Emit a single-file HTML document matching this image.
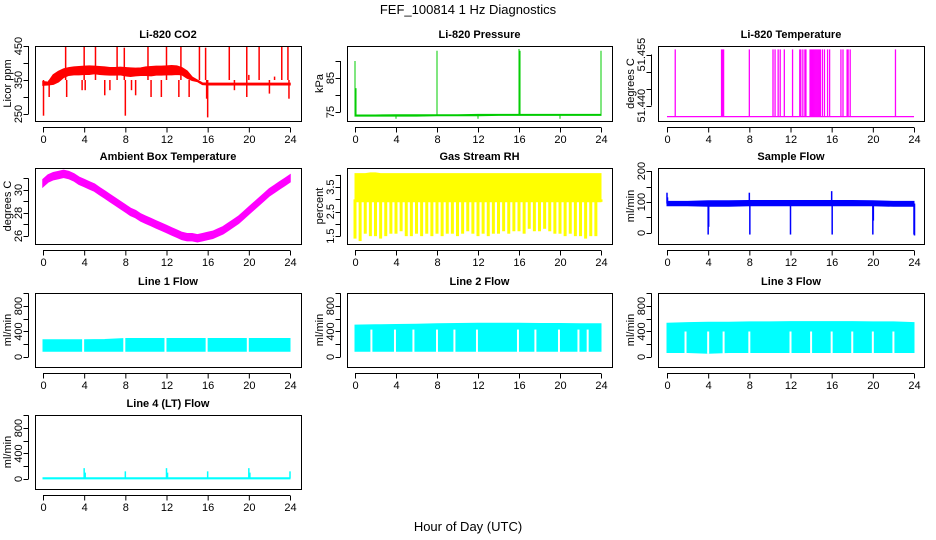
<!DOCTYPE html>
<html><head><meta charset="utf-8"><style>
html,body{margin:0;padding:0;background:#fff;}
svg{display:block;font-family:"Liberation Sans",sans-serif;}
</style></head><body>
<svg id="chart" width="936" height="540" viewBox="0 0 936 540">
<text x="468" y="14" text-anchor="middle" font-size="13">FEF_100814  1 Hz Diagnostics</text>
<text x="468" y="531" text-anchor="middle" font-size="13">Hour of Day (UTC)</text>
</svg>
<script>
// ---- data ----
const xTicks = [0,4,8,12,16,20,24];
const halfHours = [0,0.5,1,1.5,2,2.5,3,3.5,4,4.5,5,5.5,6,6.5,7,7.5,8,8.5,9,9.5,10,10.5,11,11.5,12,12.5,13,13.5,14,14.5,15,15.5,16,16.5,17,17.5,18,18.5,19,19.5,20,20.5,21,21.5,22,22.5,23,23.5,24];
const twoHours = [0,2,4,6,8,10,12,14,16,18,20,22,24];

const co2Lo = [335,336,338,345,358,364,366,366,367,367,369,367,366,365,365,366,363,361,363,364,364,363,365,365,366,366,367,366,356,349,346,337,336,336,336,336,336,336,336,336,336,336,336,336,336,336,336,336,336];
const co2Hi = [345,343,365,375,382,386,388,389,390,391,390,389,388,386,386,387,386,385,384,385,388,389,390,390,391,392,391,386,376,358,349,341,340,340,340,340,340,340,340,340,340,340,340,340,340,340,340,340,340];
const co2SpikeHours = [2.2,4,5.1,7.2,7.9,10.2,12,13.4,15.2,15.8,18.1,19.8,21,23.2,23.8,20,22.5,0.05,0.6,2.3,3.8,4.1,6,6.5,8,8.6,9,10.5,11.5,13.2,14.2,16,15.9,18.6,19.8,22,23.9];
const co2SpikeVals = [450,450,450,450,445,450,450,450,450,445,450,450,450,450,450,365,360,245,300,300,320,320,305,320,245,320,305,300,300,300,300,240,295,320,300,310,295];

const presLo = [73.8,73.8,73.8,73.8,73.9,73.9,73.9,74.0,74.0,74.0,74.0,74.0,74.0];
const presHi = [74.1,74.1,74.2,74.2,74.2,74.2,74.3,74.3,74.3,74.3,74.3,74.3,74.3];
const presSpikeHours = [0,0.1,8,16,16.1,24,4,12,20];
const presSpikeVals = [90,82,93,93.5,93,93,73,73,73];

const tempBase = [51.4368,51.4368,51.4368,51.4368,51.4368,51.4368,51.4368,51.4368,51.4368,51.4368,51.4368,51.4368,51.4368];
const tempSpikeHours = [0.8,5.3,5.4,5.5,8,10.3,10.5,10.8,11,11.4,12.2,12.9,13,13.2,13.4,13.5,13.9,14,14.1,14.2,14.3,14.4,14.5,14.6,14.7,14.8,14.9,15.1,15.3,15.6,15.8,16.9,17.1,17.5,17.6,17.8,22.2];
const tempSpikeVals = tempSpikeHours.map(()=>51.4565);

const ambCenter = [30.6,31.0,31.2,31.3,31.4,31.3,31.1,30.8,30.6,30.4,30.2,29.9,29.6,29.3,29.0,28.7,28.4,28.1,27.9,27.6,27.4,27.2,27.0,26.8,26.6,26.4,26.2,26.0,25.9,25.9,25.8,25.9,26.0,26.1,26.3,26.5,26.8,27.1,27.4,27.8,28.2,28.6,29.0,29.4,29.8,30.1,30.4,30.7,31.0];
const ambSpread = 0.6;

const rhHi = [4.05,4.05,4.05,4.08,4.08,4.05,4.05,4.05,4.05,4.05,4.05,4.05,4.05,4.05,4.05,4.05,4.05,4.05,4.05,4.05,4.05,4.05,4.05,4.05,4.05,4.05,4.05,4.05,4.05,4.05,4.05,4.05,4.05,4.05,4.05,4.05,4.05,4.05,4.05,4.05,4.05,4.05,4.05,4.05,4.05,4.05,4.05,4.05,4.05];
const rhLo = [1.4,1.3,1.6,1.5,1.5,1.4,1.5,1.6,1.6,1.7,1.5,1.5,1.6,1.5,1.6,1.5,1.6,1.5,1.6,1.6,1.5,1.6,1.7,1.6,1.5,1.6,1.5,1.6,1.6,1.7,1.6,1.7,1.7,1.6,1.8,1.7,1.7,1.8,1.7,1.6,1.6,1.5,1.6,1.5,1.5,1.4,1.5,1.5,2.9];

const flowLo = [88,88,86,86,88,88,88,88,88,88,88,86,86];
const flowHi = [102,102,104,104,105,105,105,105,105,105,104,102,102];
const flowSpikeHours = [0,0.05,4,4.05,8,8.05,12,16,16.05,20,20.05,24,24.05];
const flowSpikeVals = [130,115,-5,20,130,-5,-5,135,-5,-5,40,-5,-8];

const line1Lo = [90,90,90,90,90,90,90,90,90,90,90,90,90];
const line1Hi = [270,270,270,275,290,290,290,290,290,290,290,290,290];
const line1Gaps = [3.9,7.9,11.9,15.9,19.9];
const line2Lo = [90,90,90,90,90,90,90,90,90,90,90,90,90];
const line2Hi = [500,505,510,515,520,525,530,530,530,525,525,520,520];
const line2Gaps = [1.6,3.9,5.7,8.0,9.7,11.9,15.9,17.6,19.9,21.8,22.7];
const line3Lo = [70,70,60,70,70,70,70,70,70,70,70,70,70];
const line3Hi = [530,540,545,545,550,550,555,555,555,555,550,550,540];
const line3Gaps = [1.8,4.0,5.5,8.0,12.0,14.0,16.0,18.0,20.0,22.0];
const line4Lo = [2,2,2,2,2,2,2,2,2,2,2,2,2];
const line4Hi = [18,18,18,18,18,18,18,18,18,18,18,18,18];
const line4SpikeHours = [4,4.1,8,12,12.1,16,20,20.1,24];
const line4SpikeVals = [170,100,120,170,100,120,170,100,120];

// ---- layout ----
const svg = document.getElementById('chart');
const NS = 'http://www.w3.org/2000/svg';
const cols = [{l:35,r:301,x0:43,x1:290},{l:347,r:612,x0:355,x1:601},{l:658,r:924,x0:667,x1:914}];
const rows = [{t:46,b:121},{t:168,b:244},{t:293,b:367},{t:415,b:489}];

function mk(tag, attrs, parent){
  const e = document.createElementNS(NS, tag);
  for (const k in attrs) e.setAttribute(k, attrs[k]);
  (parent||svg).appendChild(e);
  return e;
}

function panel(name, title, ylab, col, row, ymin, ymax, yt, ylabels, color){
  const c = cols[col], r = rows[row];
  const g = mk('g', {});
  
  
  const xs = h => c.x0 + (c.x1 - c.x0) * h / 24;
  const ys = v => r.b - (v - ymin) / (ymax - ymin) * (r.b - r.t);
  const plot = mk('g', {}, g);
  
  
  const fr = mk('rect', {x:c.l+0.5, y:r.t+0.5, width:c.r-c.l, height:r.b-r.t, fill:'none', stroke:'#000'}, g);
  
  
  const tt = mk('text', {x:(c.l+c.r)/2, y:r.t-8, 'text-anchor':'middle', 'font-size':11, 'font-weight':'bold'}, g);
  tt.textContent = title;
  
  
  const xa = mk('g', {}, g);
  
  
  const ay = r.b + 6.5;
  mk('line', {x1:xs(0), x2:xs(24), y1:ay, y2:ay, stroke:'#000'}, xa);
  xTicks.forEach(h => {
    mk('line', {x1:xs(h)+0.5, x2:xs(h)+0.5, y1:ay, y2:ay+5, stroke:'#000'}, xa);
    const t = mk('text', {x:xs(h)+0.5, y:r.b+22, 'text-anchor':'middle', 'font-size':11}, xa);
    t.textContent = h;
  });
  const ya = mk('g', {}, g);
  
  
  const ax = c.l - 6.5;
  mk('line', {x1:ax, x2:ax, y1:ys(yt[0]), y2:ys(yt[yt.length-1]), stroke:'#000'}, ya);
  yt.forEach(v => mk('line', {x1:ax-5, x2:ax, y1:Math.round(ys(v))+0.5, y2:Math.round(ys(v))+0.5, stroke:'#000'}, ya));
  ylabels.forEach(v => {
    const y = ys(v), x = c.l - 13;
    const t = mk('text', {x:x, y:y, 'text-anchor':'middle', 'font-size':11, transform:`rotate(-90 ${x} ${y})`}, ya);
    t.textContent = (typeof v === 'number' && v > 51 && v < 52) ? v.toFixed(3) : v;
  });
  const nx = c.l - 24;
  const yl = mk('text', {x:nx, y:(r.t+r.b)/2, 'text-anchor':'middle', 'font-size':11, transform:`rotate(-90 ${nx} ${(r.t+r.b)/2})`}, g);
  yl.textContent = ylab;
  
  
  return {xs, ys, plot, color};
}

function band(p, hours, lo, hi, sw){
  let d = '';
  hours.forEach((h,i) => d += (i ? 'L' : 'M') + p.xs(h).toFixed(1) + ' ' + p.ys(hi[i]).toFixed(1));
  for (let i = hours.length-1; i >= 0; i--) d += 'L' + p.xs(hours[i]).toFixed(1) + ' ' + p.ys(lo[i]).toFixed(1);
  const e = mk('path', {d:d+'Z', fill:p.color, stroke:p.color, 'stroke-width':sw||1}, p.plot);
  
  
}
function spikes(p, hours, vals, base, w){
  hours.forEach((h,i) => {
    const e = mk('line', {x1:p.xs(h), x2:p.xs(h), y1:p.ys(base), y2:p.ys(vals[i]), stroke:p.color, 'stroke-width':w||1.5}, p.plot);
    
    
  });
}
function gaps(p, hours, lo, top){
  hours.forEach(h => {
    const e = mk('line', {x1:p.xs(h), x2:p.xs(h), y1:p.ys(lo-20), y2:p.ys(top), stroke:'#fff', 'stroke-width':2}, p.plot);
    
    
  });
}

let p = panel('co2','Li-820 CO2','Licor ppm',0,0,229.4,450,[250,300,350,400,450],[250,350,450],'#ff0000');
band(p, halfHours, co2Lo, co2Hi, 1.5);
spikes(p, co2SpikeHours, co2SpikeVals, 350);
p = panel('pressure','Li-820 Pressure','kPa',1,0,72.35,94.4,[75,80,85,90],[75,85],'#00cc00');
band(p, twoHours, presLo, presHi, 1);
spikes(p, presSpikeHours, presSpikeVals, 74.0, 1);
p = panel('li820-temp','Li-820 Temperature','degrees C',2,0,51.4355,51.4575,[51.440,51.445,51.450,51.455],[51.440,51.455],'#ff00ff');
band(p, twoHours, tempBase, tempBase, 1.2);
spikes(p, tempSpikeHours, tempSpikeVals, 51.4368, 1.3);
p = panel('ambient','Ambient Box Temperature','degrees C',0,1,25.3,31.91,[26,27,28,29,30,31],[26,28,30],'#ff00ff');
band(p, halfHours, ambCenter.map(v=>v-ambSpread/2), ambCenter.map(v=>v+ambSpread/2), 1.5);
p = panel('rh','Gas Stream RH','percent',1,1,1.18,4.28,[1.5,2,2.5,3,3.5,4],[1.5,2.5,3.5],'#ffff00');
band(p, halfHours, rhHi.map(()=>2.9), rhHi);
spikes(p, halfHours, rhLo, 3.0, 3);
p = panel('sample-flow','Sample Flow','ml/min',2,1,-35.5,209.7,[0,50,100,150,200],[0,100,200],'#0000ff');
band(p, twoHours, flowLo, flowHi);
spikes(p, flowSpikeHours, flowSpikeVals, 95, 1.5);
const lt = [0,200,400,600,800,1000], ll = [0,400,800];
p = panel('line1-flow','Line 1 Flow','ml/min',0,2,-157,1004,lt,ll,'#00ffff');
band(p, twoHours, line1Lo, line1Hi); gaps(p, line1Gaps, 90, 300);
p = panel('line2-flow','Line 2 Flow','ml/min',1,2,-157,1004,lt,ll,'#00ffff');
band(p, twoHours, line2Lo, line2Hi); gaps(p, line2Gaps, 90, 430);
p = panel('line3-flow','Line 3 Flow','ml/min',2,2,-157,1004,lt,ll,'#00ffff');
band(p, twoHours, line3Lo, line3Hi); gaps(p, line3Gaps, 70, 400);
p = panel('line4-flow','Line 4 (LT) Flow','ml/min',0,3,-157,1004,lt,ll,'#00ffff');
band(p, twoHours, line4Lo, line4Hi);
spikes(p, line4SpikeHours, line4SpikeVals, 10, 1.5);
</script>
</body></html>
